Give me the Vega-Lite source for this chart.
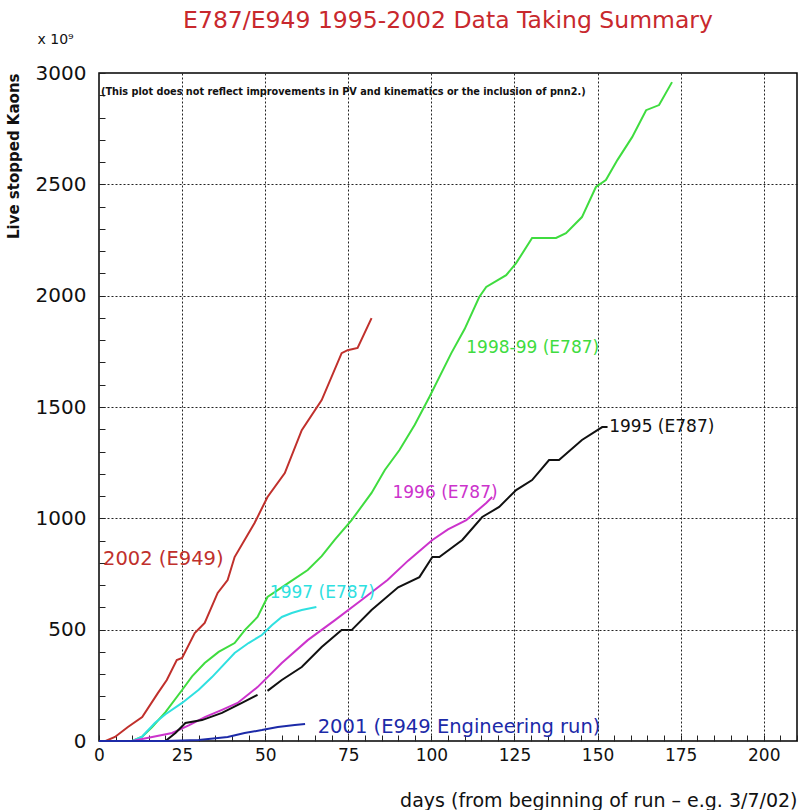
{
  "$schema": "https://vega.github.io/schema/vega-lite/v6.json",
  "width": 698,
  "height": 668,
  "autosize": {"type": "none"},
  "padding": {"left": 99, "top": 73, "right": 4, "bottom": 69},
  "background": "white",
  "title": {
    "text": "E787/E949 1995-2002 Data Taking Summary",
    "color": "#c8282d",
    "fontSize": 23.5,
    "font": "DejaVu Sans",
    "fontWeight": "normal",
    "anchor": "middle",
    "offset": 0
  },
  "config": {
    "view": {"stroke": "black", "strokeWidth": 1.5},
    "axis": {
      "labelFont": "DejaVu Sans",
      "labelColor": "#111",
      "titleFont": "DejaVu Sans",
      "titleColor": "#111",
      "domain": false,
      "tickColor": "#222",
      "gridColor": "#222",
      "gridDash": [2, 2],
      "gridWidth": 1
    }
  },
  "datasets": {
    "lines": [
      {"series": "2002", "seg": "a", "day": 0, "value": 0},
      {"series": "2002", "seg": "a", "day": 2, "value": 0},
      {"series": "2002", "seg": "a", "day": 4.8, "value": 18},
      {"series": "2002", "seg": "a", "day": 8.7, "value": 63},
      {"series": "2002", "seg": "a", "day": 13, "value": 108},
      {"series": "2002", "seg": "a", "day": 17.7, "value": 215},
      {"series": "2002", "seg": "a", "day": 20.4, "value": 274},
      {"series": "2002", "seg": "a", "day": 23.4, "value": 364},
      {"series": "2002", "seg": "a", "day": 25, "value": 373},
      {"series": "2002", "seg": "a", "day": 28.8, "value": 485},
      {"series": "2002", "seg": "a", "day": 31.8, "value": 530},
      {"series": "2002", "seg": "a", "day": 35.7, "value": 665},
      {"series": "2002", "seg": "a", "day": 38.7, "value": 723},
      {"series": "2002", "seg": "a", "day": 40.8, "value": 826},
      {"series": "2002", "seg": "a", "day": 46.8, "value": 979},
      {"series": "2002", "seg": "a", "day": 50.7, "value": 1096},
      {"series": "2002", "seg": "a", "day": 55.9, "value": 1203},
      {"series": "2002", "seg": "a", "day": 61, "value": 1396},
      {"series": "2002", "seg": "a", "day": 67, "value": 1531},
      {"series": "2002", "seg": "a", "day": 73, "value": 1742},
      {"series": "2002", "seg": "a", "day": 74.8, "value": 1755},
      {"series": "2002", "seg": "a", "day": 77.8, "value": 1765},
      {"series": "2002", "seg": "a", "day": 82, "value": 1899},

      {"series": "1998-99", "seg": "a", "day": 10, "value": 0},
      {"series": "1998-99", "seg": "a", "day": 13, "value": 20},
      {"series": "1998-99", "seg": "a", "day": 16, "value": 63},
      {"series": "1998-99", "seg": "a", "day": 20, "value": 130},
      {"series": "1998-99", "seg": "a", "day": 25, "value": 229},
      {"series": "1998-99", "seg": "a", "day": 28, "value": 290},
      {"series": "1998-99", "seg": "a", "day": 31.8, "value": 350},
      {"series": "1998-99", "seg": "a", "day": 36, "value": 400},
      {"series": "1998-99", "seg": "a", "day": 40.8, "value": 440},
      {"series": "1998-99", "seg": "a", "day": 44, "value": 500},
      {"series": "1998-99", "seg": "a", "day": 47.7, "value": 557},
      {"series": "1998-99", "seg": "a", "day": 50.7, "value": 647},
      {"series": "1998-99", "seg": "a", "day": 56, "value": 700},
      {"series": "1998-99", "seg": "a", "day": 62.8, "value": 768},
      {"series": "1998-99", "seg": "a", "day": 67, "value": 830},
      {"series": "1998-99", "seg": "a", "day": 70.9, "value": 903},
      {"series": "1998-99", "seg": "a", "day": 76, "value": 992},
      {"series": "1998-99", "seg": "a", "day": 82, "value": 1114},
      {"series": "1998-99", "seg": "a", "day": 86, "value": 1217},
      {"series": "1998-99", "seg": "a", "day": 90.4, "value": 1307},
      {"series": "1998-99", "seg": "a", "day": 95, "value": 1420},
      {"series": "1998-99", "seg": "a", "day": 99.4, "value": 1545},
      {"series": "1998-99", "seg": "a", "day": 106, "value": 1742},
      {"series": "1998-99", "seg": "a", "day": 110, "value": 1850},
      {"series": "1998-99", "seg": "a", "day": 114.4, "value": 1994},
      {"series": "1998-99", "seg": "a", "day": 116.5, "value": 2039},
      {"series": "1998-99", "seg": "a", "day": 122.5, "value": 2092},
      {"series": "1998-99", "seg": "a", "day": 125.5, "value": 2146},
      {"series": "1998-99", "seg": "a", "day": 130.3, "value": 2259},
      {"series": "1998-99", "seg": "a", "day": 137.5, "value": 2259},
      {"series": "1998-99", "seg": "a", "day": 140.5, "value": 2281},
      {"series": "1998-99", "seg": "a", "day": 145.3, "value": 2353},
      {"series": "1998-99", "seg": "a", "day": 149.5, "value": 2488},
      {"series": "1998-99", "seg": "a", "day": 152.5, "value": 2519},
      {"series": "1998-99", "seg": "a", "day": 156, "value": 2610},
      {"series": "1998-99", "seg": "a", "day": 160.4, "value": 2712},
      {"series": "1998-99", "seg": "a", "day": 164.6, "value": 2833},
      {"series": "1998-99", "seg": "a", "day": 168.5, "value": 2856},
      {"series": "1998-99", "seg": "a", "day": 172.4, "value": 2959},

      {"series": "1997", "seg": "a", "day": 10, "value": 0},
      {"series": "1997", "seg": "a", "day": 13, "value": 20},
      {"series": "1997", "seg": "a", "day": 16.8, "value": 81},
      {"series": "1997", "seg": "a", "day": 20, "value": 120},
      {"series": "1997", "seg": "a", "day": 25, "value": 171},
      {"series": "1997", "seg": "a", "day": 30, "value": 230},
      {"series": "1997", "seg": "a", "day": 34, "value": 287},
      {"series": "1997", "seg": "a", "day": 40.8, "value": 395},
      {"series": "1997", "seg": "a", "day": 45, "value": 440},
      {"series": "1997", "seg": "a", "day": 49, "value": 476},
      {"series": "1997", "seg": "a", "day": 52, "value": 520},
      {"series": "1997", "seg": "a", "day": 55, "value": 557},
      {"series": "1997", "seg": "a", "day": 58, "value": 575},
      {"series": "1997", "seg": "a", "day": 61, "value": 588},
      {"series": "1997", "seg": "a", "day": 65.4, "value": 602},

      {"series": "1996", "seg": "a", "day": 0, "value": 0},
      {"series": "1996", "seg": "a", "day": 10, "value": 0},
      {"series": "1996", "seg": "a", "day": 16, "value": 18},
      {"series": "1996", "seg": "a", "day": 22, "value": 36},
      {"series": "1996", "seg": "a", "day": 27, "value": 70},
      {"series": "1996", "seg": "a", "day": 32, "value": 108},
      {"series": "1996", "seg": "a", "day": 37, "value": 140},
      {"series": "1996", "seg": "a", "day": 41.7, "value": 171},
      {"series": "1996", "seg": "a", "day": 47.7, "value": 242},
      {"series": "1996", "seg": "a", "day": 55, "value": 350},
      {"series": "1996", "seg": "a", "day": 62.8, "value": 453},
      {"series": "1996", "seg": "a", "day": 71, "value": 543},
      {"series": "1996", "seg": "a", "day": 79, "value": 633},
      {"series": "1996", "seg": "a", "day": 86.8, "value": 723},
      {"series": "1996", "seg": "a", "day": 93, "value": 810},
      {"series": "1996", "seg": "a", "day": 100.3, "value": 903},
      {"series": "1996", "seg": "a", "day": 105, "value": 950},
      {"series": "1996", "seg": "a", "day": 110.5, "value": 992},
      {"series": "1996", "seg": "a", "day": 116.5, "value": 1069},
      {"series": "1996", "seg": "a", "day": 118.3, "value": 1096},

      {"series": "1995", "seg": "a", "day": 20, "value": 0},
      {"series": "1995", "seg": "a", "day": 23, "value": 36},
      {"series": "1995", "seg": "a", "day": 26, "value": 81},
      {"series": "1995", "seg": "a", "day": 31, "value": 94},
      {"series": "1995", "seg": "a", "day": 37, "value": 126},
      {"series": "1995", "seg": "a", "day": 43, "value": 171},
      {"series": "1995", "seg": "a", "day": 47.7, "value": 207},
      {"series": "1995", "seg": "b", "day": 50.7, "value": 225},
      {"series": "1995", "seg": "b", "day": 55, "value": 274},
      {"series": "1995", "seg": "b", "day": 61, "value": 332},
      {"series": "1995", "seg": "b", "day": 67, "value": 422},
      {"series": "1995", "seg": "b", "day": 73, "value": 498},
      {"series": "1995", "seg": "b", "day": 76, "value": 498},
      {"series": "1995", "seg": "b", "day": 82, "value": 588},
      {"series": "1995", "seg": "b", "day": 90, "value": 690},
      {"series": "1995", "seg": "b", "day": 96.4, "value": 736},
      {"series": "1995", "seg": "b", "day": 100.3, "value": 826},
      {"series": "1995", "seg": "b", "day": 102.4, "value": 826},
      {"series": "1995", "seg": "b", "day": 109.3, "value": 903},
      {"series": "1995", "seg": "b", "day": 115.3, "value": 1006},
      {"series": "1995", "seg": "b", "day": 120.4, "value": 1051},
      {"series": "1995", "seg": "b", "day": 125.5, "value": 1127},
      {"series": "1995", "seg": "b", "day": 130.3, "value": 1172},
      {"series": "1995", "seg": "b", "day": 135.4, "value": 1262},
      {"series": "1995", "seg": "b", "day": 138.4, "value": 1262},
      {"series": "1995", "seg": "b", "day": 145.3, "value": 1352},
      {"series": "1995", "seg": "b", "day": 151.4, "value": 1410},
      {"series": "1995", "seg": "b", "day": 153, "value": 1410},

      {"series": "2001", "seg": "a", "day": 0, "value": 0},
      {"series": "2001", "seg": "a", "day": 20, "value": 0},
      {"series": "2001", "seg": "a", "day": 30, "value": 5},
      {"series": "2001", "seg": "a", "day": 38.7, "value": 18},
      {"series": "2001", "seg": "a", "day": 43.8, "value": 36},
      {"series": "2001", "seg": "a", "day": 49, "value": 49},
      {"series": "2001", "seg": "a", "day": 53.8, "value": 63},
      {"series": "2001", "seg": "a", "day": 58.9, "value": 72},
      {"series": "2001", "seg": "a", "day": 62, "value": 76}
    ],
    "labels": [
      {"series": "2002", "day": 1.2, "value": 817, "label": "2002 (E949)"},
      {"series": "1997", "day": 51.4, "value": 665, "label": "1997 (E787)"},
      {"series": "1998-99", "day": 110.5, "value": 1765, "label": "1998-99 (E787)"},
      {"series": "1996", "day": 88.3, "value": 1114, "label": "1996 (E787)"},
      {"series": "1995", "day": 153.5, "value": 1410, "label": "1995 (E787)"},
      {"series": "2001", "day": 65.8, "value": 63, "label": "2001 (E949 Engineering run)"}
    ],
    "notes": [
      {"kind": "note", "day": 0.6, "value": 2915, "label": "(This plot does not reflect improvements in PV and kinematics or the inclusion of pnn2.)"},
      {"kind": "exp", "day": -18.5, "value": 3150, "label": "x 10⁹"}
    ]
  },
  "layer": [
    {
      "data": {"name": "lines"},
      "mark": {"type": "line", "interpolate": "linear"},
      "encoding": {
        "x": {
          "field": "day",
          "type": "quantitative",
          "scale": {"domain": [0, 210], "nice": false, "zero": false},
          "axis": {
            "values": [0,5,10,15,20,25,30,35,40,45,50,55,60,65,70,75,80,85,90,95,100,105,110,115,120,125,130,135,140,145,150,155,160,165,170,175,180,185,190,195,200,205,210],
            "tickCount": 200,
            "labelExpr": "datum.value % 25 === 0 && datum.value <= 200 ? datum.label : ''",
            "labelFontSize": 17,
            "labelPadding": 12,
            "labelFlush": false,
            "labelOverlap": false,
            "tickSize": -6,
            "gridOpacity": {"condition": {"test": "datum.value % 25 === 0 && datum.value > 0 && datum.value <= 200", "value": 1}, "value": 0},
            "title": "days (from beginning of run – e.g. 3/7/02)",
            "titleFontSize": 19,
            "titleFontWeight": "normal",
            "titleAnchor": "end",
            "titlePadding": 28
          }
        },
        "y": {
          "field": "value",
          "type": "quantitative",
          "scale": {"domain": [0, 3000], "nice": false},
          "axis": {
            "values": [0,100,200,300,400,500,600,700,800,900,1000,1100,1200,1300,1400,1500,1600,1700,1800,1900,2000,2100,2200,2300,2400,2500,2600,2700,2800,2900,3000],
            "tickCount": 200,
            "labelExpr": "datum.value % 500 === 0 ? datum.value : ''",
            "labelFontSize": 20,
            "labelPadding": 19,
            "labelOverlap": false,
            "labelFlush": false,
            "tickSize": -6,
            "gridOpacity": {"condition": {"test": "datum.value % 500 === 0 && datum.value > 0 && datum.value < 3000", "value": 1}, "value": 0},
            "title": "Live stopped Kaons",
            "titleFontSize": 15,
            "titleFontWeight": "bold",
            "titleAngle": -90,
            "titleAlign": "right",
            "titleBaseline": "middle",
            "titleX": -86,
            "titleY": 0
          }
        },
        "color": {
          "field": "series",
          "type": "nominal",
          "scale": {
            "domain": ["2002", "1998-99", "1997", "1996", "1995", "2001"],
            "range": ["#c0302c", "#3fdc3f", "#2fe0e0", "#cc33cc", "#111111", "#1c2aa8"]
          },
          "legend": null
        },
        "detail": {"field": "seg", "type": "nominal"},
        "strokeWidth": {
          "field": "series",
          "type": "nominal",
          "scale": {
            "domain": ["2002", "1998-99", "1997", "1996", "1995", "2001"],
            "range": [2, 2, 2.5, 2, 3, 2.5]
          },
          "legend": null
        }
      }
    },
    {
      "data": {"name": "labels"},
      "transform": [{"filter": "datum.series !== '2001' && datum.series !== '2002'"}],
      "mark": {"type": "text", "align": "left", "baseline": "middle", "font": "DejaVu Sans", "fontSize": 17, "clip": false},
      "encoding": {
        "x": {"field": "day", "type": "quantitative"},
        "y": {"field": "value", "type": "quantitative"},
        "text": {"field": "label"},
        "color": {
          "field": "series",
          "type": "nominal",
          "scale": {
            "domain": ["2002", "1998-99", "1997", "1996", "1995", "2001"],
            "range": ["#c0302c", "#3fdc3f", "#2fe0e0", "#cc33cc", "#111111", "#1c2aa8"]
          },
          "legend": null
        }
      }
    },
    {
      "data": {"name": "labels"},
      "transform": [{"filter": "datum.series === '2001' || datum.series === '2002'"}],
      "mark": {"type": "text", "align": "left", "baseline": "middle", "font": "DejaVu Sans", "fontSize": 19.5, "clip": false},
      "encoding": {
        "x": {"field": "day", "type": "quantitative"},
        "y": {"field": "value", "type": "quantitative"},
        "text": {"field": "label"},
        "color": {
          "field": "series",
          "type": "nominal",
          "scale": {
            "domain": ["2002", "2001"],
            "range": ["#c0302c", "#1c2aa8"]
          },
          "legend": null
        }
      }
    },
    {
      "data": {"name": "notes"},
      "transform": [{"filter": "datum.kind === 'note'"}],
      "mark": {"type": "text", "align": "left", "baseline": "middle", "font": "DejaVu Sans Condensed", "fontWeight": "bold", "fontSize": 10.8, "color": "#111", "clip": false},
      "encoding": {
        "x": {"field": "day", "type": "quantitative"},
        "y": {"field": "value", "type": "quantitative"},
        "text": {"field": "label"}
      }
    },
    {
      "data": {"name": "notes"},
      "transform": [{"filter": "datum.kind === 'exp'"}],
      "mark": {"type": "text", "align": "left", "baseline": "middle", "font": "DejaVu Sans", "fontSize": 14, "color": "#111", "clip": false},
      "encoding": {
        "x": {"field": "day", "type": "quantitative"},
        "y": {"field": "value", "type": "quantitative"},
        "text": {"field": "label"}
      }
    }
  ],
  "resolve": {"scale": {"color": "independent"}}
}
